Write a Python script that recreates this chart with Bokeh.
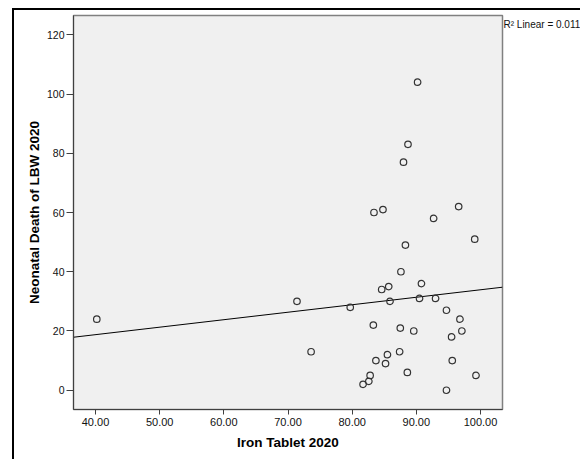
from bokeh.plotting import figure
from bokeh.models import Range1d, FixedTicker, LinearAxis
from bokeh.embed import file_html
from bokeh.resources import INLINE
import numpy as np

# Data
iron_tablet = [40.2, 71.4, 73.6, 79.7, 83.3, 83.4, 84.8, 84.6, 85.7, 85.9,
               87.6, 88.3, 88.0, 88.7, 90.2, 87.5, 89.6, 90.8, 90.5, 93.0,
               92.7, 96.6, 99.1, 94.7, 96.8, 97.1, 95.5, 87.4, 85.5, 83.7,
               85.2, 88.6, 82.8, 82.6, 81.7, 95.6, 99.3, 94.7]
neonatal_death = [24, 30, 13, 28, 22, 60, 61, 34, 35, 30,
                  40, 49, 77, 83, 104, 21, 20, 36, 31, 31,
                  58, 62, 51, 27, 24, 20, 18, 13, 12, 10,
                  9, 6, 5, 3, 2, 10, 5, 0]

x_ticks = [40, 50, 60, 70, 80, 90, 100]
x_tick_labels = ["40.00", "50.00", "60.00", "70.00", "80.00", "90.00", "100.00"]
y_ticks = [0, 20, 40, 60, 80, 100, 120]
r2_text = "R\u00b2 Linear = 0.011"
r2_pos = 123.5
x_title = "Iron Tablet 2020"
y_title = "Neonatal Death of LBW 2020"

FONT = "Liberation Sans"

x_lo, x_hi = 36.57, 103.43
p = figure(output_backend="svg", toolbar_location=None,
           frame_width=429, frame_height=394,
           min_border_left=59, min_border_right=78,
           min_border_top=5, min_border_bottom=50,
           x_range=Range1d(x_lo, x_hi), y_range=Range1d(-6.5, 126.5))
p.styles = {"margin-left": "12px", "margin-top": "8px",
            "border-left": "2px solid black",
            "border-top": "2px solid black"}

p.background_fill_color = "#f0f0f0"
p.border_fill_color = "white"
p.outline_line_color = "#808080"
p.outline_line_width = 1.5
p.xgrid.visible = False
p.ygrid.visible = False

for ax in (p.xaxis[0], p.yaxis[0]):
    ax.axis_line_color = "#404040"
    ax.major_tick_line_color = "#404040"
    ax.minor_tick_line_color = None
    ax.major_tick_in = 0
    ax.major_label_text_font = FONT
    ax.major_label_text_color = "#111111"
    ax.axis_label_text_font = FONT
    ax.axis_label_text_font_size = "13.5px"
    ax.axis_label_text_font_style = "bold"
    ax.axis_label_text_color = "#000000"

p.xaxis.ticker = FixedTicker(ticks=x_ticks)
p.xaxis.major_label_overrides = {t: l for t, l in zip(x_ticks, x_tick_labels)}
p.xaxis.major_label_text_font_size = "11px"
p.xaxis.major_tick_out = 5
p.xaxis.major_label_standoff = 3
p.xaxis.axis_label = x_title
p.xaxis.axis_label_standoff = 6

p.yaxis.ticker = FixedTicker(ticks=y_ticks)
p.yaxis.major_label_text_font_size = "10.5px"
p.yaxis.major_tick_out = 7
p.yaxis.major_label_standoff = 2
p.yaxis.axis_label = y_title
p.yaxis.axis_label_standoff = 2

# R-squared annotation shown just right of the plot box
r2_axis = LinearAxis(ticker=FixedTicker(ticks=[r2_pos]),
                     major_label_overrides={r2_pos: r2_text},
                     axis_line_color=None, major_tick_line_color=None,
                     minor_tick_line_color=None,
                     major_tick_in=0, major_tick_out=0,
                     major_label_standoff=1,
                     major_label_text_font=FONT,
                     major_label_text_font_size="10px",
                     major_label_text_color="#111111")
p.add_layout(r2_axis, "right")

# Linear fit line
m, b = np.polyfit(iron_tablet, neonatal_death, 1)
p.line([x_lo, x_hi], [b + m * x_lo, b + m * x_hi], line_color="black", line_width=1)

p.scatter(iron_tablet, neonatal_death, marker="circle", size=6.5,
          fill_color=None, line_color="#333333", line_width=1.2)

open("out.html", "w").write(file_html(p, INLINE))
